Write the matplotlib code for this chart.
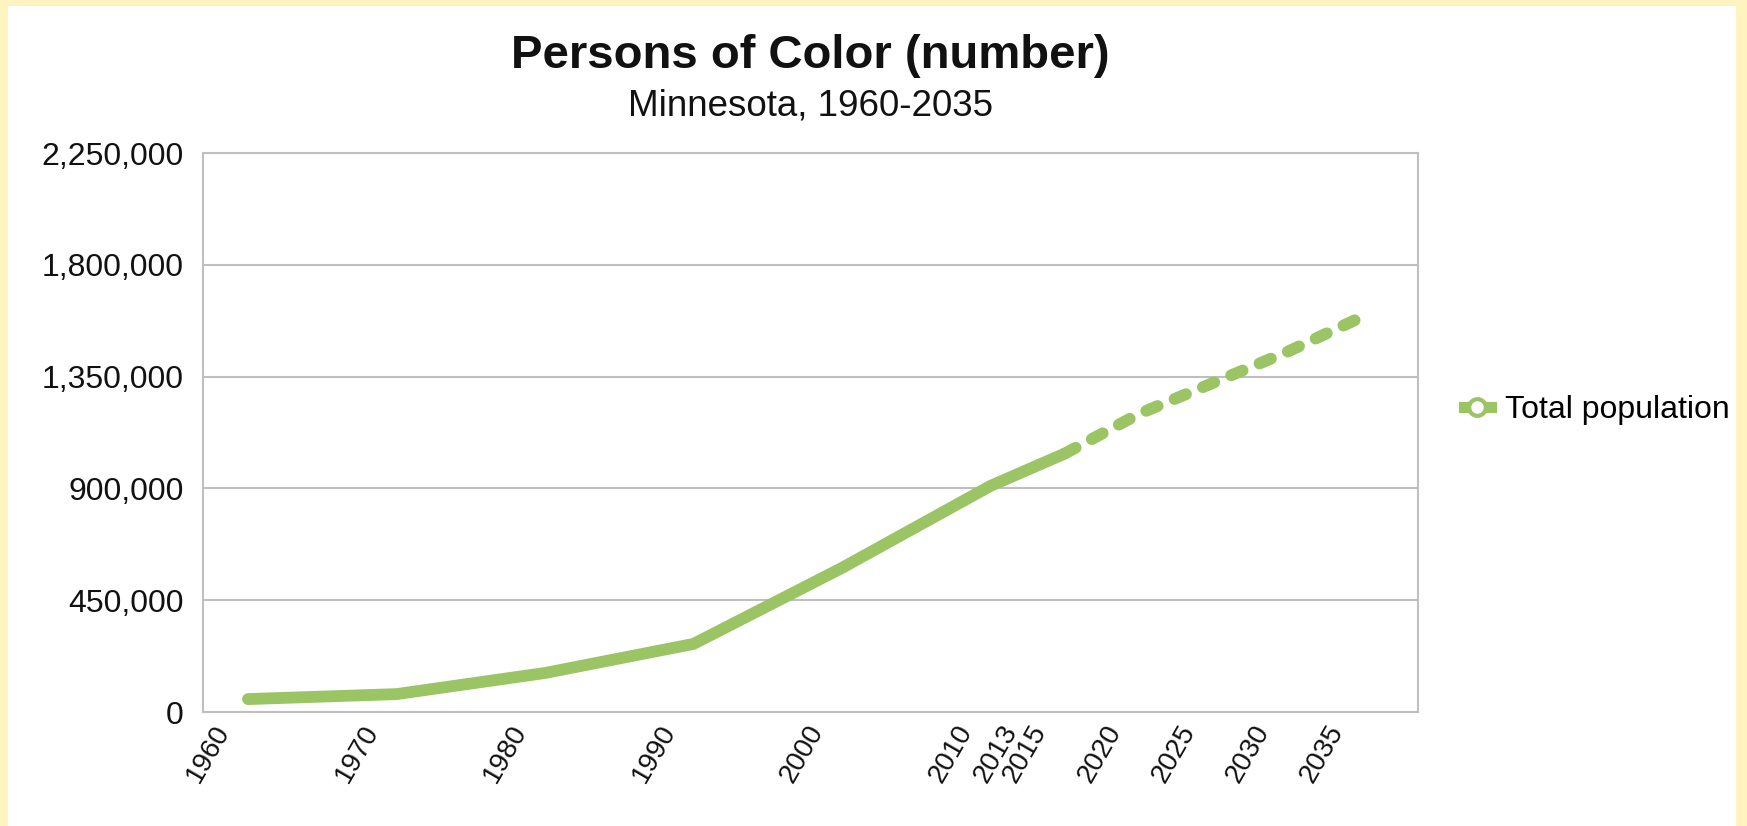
import matplotlib.pyplot as plt
import matplotlib.transforms as mtransforms
from matplotlib.lines import Line2D
from matplotlib.patches import Rectangle
from matplotlib.ticker import FuncFormatter

plt.rcParams['font.family'] = ['Liberation Sans', 'DejaVu Sans']

anos_obs = [1960, 1970, 1980, 1990, 2000, 2010, 2013, 2015]
pop_obs = [52000, 72000, 157000, 274000, 580000, 910000, 988000, 1040000]
# projected values
anos_proj = [2015, 2020, 2025, 2030, 2035]
pop_proj = [1040000, 1200000, 1325000, 1450000, 1590000]

tick_anos = [1960, 1970, 1980, 1990, 2000, 2010, 2013, 2015, 2020, 2025, 2030, 2035]
y_ticks = [0, 450000, 900000, 1350000, 1800000, 2250000]

verde = '#9BC465'
cinza = '#BFBFBF'

fig = plt.figure(figsize=(17.47, 8.26), dpi=100)
fig.patch.set_facecolor('#FFF4BF')
# white card inside the yellow frame
fig.patches.append(Rectangle((8 / 1747, 0), 1 - 19 / 1747, 1 - 6 / 826,
                             transform=fig.transFigure, facecolor='white',
                             edgecolor='none', zorder=-1))

ax = fig.add_axes([203 / 1747, 114 / 826, 1215 / 1747, 559 / 826])
ax.set_zorder(2)
ax.set_facecolor('white')

ax.plot(anos_obs, pop_obs, color=verde, lw=8.5, solid_capstyle='round',
        solid_joinstyle='round', zorder=3)
ax.plot(anos_proj, pop_proj, color=verde, lw=8.5, linestyle=(0, (1.05, 1.55)),
        dash_capstyle='round', zorder=3)

ax.set_xlim(1956.97, 2038.79)
ax.set_ylim(0, 2250000)
ax.set_yticks(y_ticks)
ax.yaxis.set_major_formatter(FuncFormatter(lambda v, p: f'{int(v):,}'))
ax.set_xticks(tick_anos)
ax.set_xticklabels([str(a) for a in tick_anos], rotation=60, ha='right',
                   va='center', rotation_mode='anchor')
ax.tick_params(axis='y', length=0, pad=14, labelsize=23, labelcolor='#111111')
ax.tick_params(axis='x', length=0, pad=11, labelsize=20, labelcolor='#111111')
desloc = mtransforms.ScaledTranslation(-0.24, 0, fig.dpi_scale_trans)
for lbl in ax.get_xticklabels():
    lbl.set_transform(lbl.get_transform() + desloc)
ax.grid(axis='y', color=cinza, lw=1.5)
ax.set_axisbelow(True)
for s in ax.spines.values():
    s.set_color(cinza)
    s.set_linewidth(1.5)

cx = (203 + 1418) / 2 / 1747
fig.text(cx, 1 - 56 / 826, 'Persons of Color (number)', ha='center', va='center',
         fontsize=34, fontweight='bold', color='#111111', zorder=3)
fig.text(cx, 1 - 106 / 826, 'Minnesota, 1960-2035', ha='center', va='center',
         fontsize=26.5, color='#111111', zorder=3)

handle = Line2D([], [], color=verde, lw=8, marker='o', markersize=12,
                markerfacecolor='white', markeredgecolor=verde, markeredgewidth=3)
leg = fig.legend([handle], ['Total population'], loc='center left',
                 bbox_to_anchor=(1435 / 1747, 1 - 410 / 826), frameon=False,
                 fontsize=23, handlelength=0.85, handletextpad=0.45)
leg.set_zorder(3)

fig.savefig('out.png', dpi=100, facecolor=fig.get_facecolor())
